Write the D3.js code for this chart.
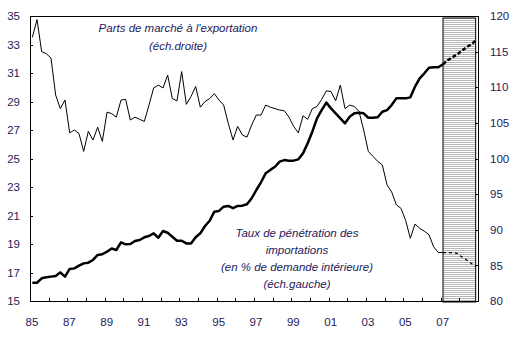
<!DOCTYPE html>
<html><head><meta charset="utf-8">
<script src="https://cdn.jsdelivr.net/npm/d3@7"></script>
<style>
html,body{margin:0;padding:0;background:#fff;}
svg{display:block;font-family:"Liberation Sans",Arial,sans-serif;}
</style></head>
<body><svg id="chart" width="516" height="338"></svg>
<script>
// ---- data (quarterly, 1985Q1 = index 0) ----
const startYear = 1985;
const endYear = 2009;
const xTickLabels = ["85","87","89","91","93","95","97","99","01","03","05","07"];
const leftTicks = [15,17,19,21,23,25,27,29,31,33,35];
const rightTicks = [80,85,90,95,100,105,110,115,120];
// Taux de pénétration des importations (left scale), 1985Q1..2007Q1
const penetration = [16.28,16.28,16.59,16.66,16.71,16.75,17.01,16.71,17.25,17.29,17.48,17.64,17.69,17.88,18.23,18.28,
  18.46,18.68,18.58,19.12,18.98,19.00,19.21,19.28,19.47,19.56,19.75,19.44,19.91,19.79,19.51,19.23,
  19.23,19.04,19.04,19.47,19.75,20.26,20.63,21.27,21.32,21.62,21.67,21.51,21.67,21.69,21.79,22.21,
  22.79,23.33,23.96,24.20,24.42,24.78,24.89,24.85,24.85,24.94,25.36,26.07,26.88,27.82,28.40,28.92,
  28.52,28.17,27.82,27.47,27.93,28.17,28.21,28.17,27.86,27.86,27.89,28.28,28.40,28.75,29.22,29.22,
  29.22,29.29,30.04,30.63,30.98,31.37,31.40,31.40,31.61];
// forecast 2007Q1..2008Q4
const penetrationForecast = [31.61,31.90,32.10,32.30,32.55,32.80,33.00,33.27];
// Parts de marché à l'exportation (right scale), 1985Q1..2007Q1
const exportShare = [117.0,119.5,115.0,114.7,114.1,108.9,107.0,108.2,103.6,104.0,103.5,101.0,103.8,102.6,104.4,102.4,
  106.5,106.3,105.8,108.2,108.3,105.4,105.8,105.5,105.2,107.5,109.9,110.3,109.9,111.7,108.4,108.1,
  112.2,107.6,108.7,110.1,107.2,108.0,108.4,109.1,108.2,107.5,104.9,102.6,104.5,103.3,103.0,104.7,
  106.1,106.1,107.5,107.2,107.0,106.8,106.7,105.8,104.5,103.6,106.0,105.5,107.0,107.3,108.3,109.5,
  109.4,108.1,110.3,107.0,107.5,107.3,106.6,104.0,101.0,100.3,99.6,99.1,96.3,95.3,93.5,93.0,
  91.3,88.8,90.8,90.2,89.8,89.3,87.6,86.8,86.8];
const exportShareForecast = [86.8,86.8,86.8,86.7,86.2,85.8,85.3,84.8];
const forecastStart = penetration.length - 1; // index of 2007Q1
const exportLabel = ["Parts de marché à l'exportation","(éch.droite)"];
const penetrationLabel = ["Taux de pénétration des","importations","(en % de demande intérieure)","(éch.gauche)"];

// ---- layout ----
const svg = d3.select("#chart");
const M = {left:30, top:16, right:478, bottom:301};
const nQ = (endYear - startYear) * 4;
const x = d3.scaleLinear().domain([0, nQ]).range([M.left, M.right]);
const yL = d3.scaleLinear().domain([15, 35]).range([M.bottom, M.top]);
const yR = d3.scaleLinear().domain([80, 120]).range([M.bottom, M.top]);
const textColor = "#1e1a5a";

// pattern for forecast box
const defs = svg.append("defs");
const pat = defs.append("pattern").attr("id","hatch").attr("patternUnits","userSpaceOnUse")
  .attr("width",4).attr("height",2);
pat.append("rect").attr("width",4).attr("height",2).attr("fill","#fff");
pat.append("rect").attr("width",4).attr("height",1).attr("fill","#b6b6b6");

// forecast box
const fx0 = x(forecastStart + 0.5), fx1 = x(nQ - 0.5);
svg.append("rect").attr("x", fx0).attr("y", M.top + 2).attr("width", fx1 - fx0)
  .attr("height", M.bottom - M.top - 1).attr("fill","url(#hatch)")
  .attr("stroke","#000").attr("stroke-width",1);

// frame
svg.append("path").attr("d",`M${M.left},${M.top}H${M.right}V${M.bottom}H${M.left}Z`)
  .attr("fill","none").attr("stroke","#000").attr("stroke-width",1).attr("shape-rendering","crispEdges");

// axes
const gL = svg.append("g").attr("transform",`translate(${M.left},0)`)
  .call(d3.axisLeft(yL).tickValues(leftTicks).tickSize(-3).tickPadding(10).tickFormat(d3.format("d")));
const gR = svg.append("g").attr("transform",`translate(${M.right},0)`)
  .call(d3.axisRight(yR).tickValues(rightTicks).tickSize(-3).tickPadding(12).tickFormat(d3.format("d")));
const yearTicks = d3.range(0, nQ + 1, 4);
const gB = svg.append("g").attr("transform",`translate(0,${M.bottom})`)
  .call(d3.axisBottom(x).tickValues(yearTicks).tickSize(-3).tickFormat(""));
[gL,gR,gB].forEach(g=>{
  g.select(".domain").remove();
  g.selectAll(".tick line").attr("stroke","#000").attr("shape-rendering","crispEdges");
  g.selectAll("text").attr("font-size",11.5).attr("fill",textColor).attr("font-family","'Liberation Sans',Arial,sans-serif");
});
svg.append("g").selectAll("text").data(xTickLabels).join("text")
  .attr("x",(d,i)=>x(i*8)+2).attr("y",M.bottom+25).attr("text-anchor","middle")
  .attr("font-size",11.5).attr("fill",textColor).text(d=>d);

// lines
const lineL = d3.line().x(d=>x(d.i+0.5)).y(d=>yL(d.v));
const lineR = d3.line().x(d=>x(d.i+0.5)).y(d=>yR(d.v));
const toPts = (arr, off) => arr.map((v,i)=>({i:i+off, v}));
svg.append("path").attr("d", lineR(toPts(exportShare,0))).attr("fill","none").attr("stroke","#000").attr("stroke-width",1);
svg.append("path").attr("d", lineR(toPts(exportShareForecast,forecastStart))).attr("fill","none").attr("stroke","#000")
  .attr("stroke-width",1.3).attr("stroke-dasharray","3,3");
svg.append("path").attr("d", lineL(toPts(penetration,0))).attr("fill","none").attr("stroke","#000")
  .attr("stroke-width",2.5).attr("stroke-linejoin","round");
svg.append("path").attr("d", lineL(toPts(penetrationForecast,forecastStart))).attr("fill","none").attr("stroke","#000")
  .attr("stroke-width",2.5).attr("stroke-dasharray","4,2");

// annotations
const ann = (lines, cx, y0, dy) => svg.append("g").selectAll("text").data(lines).join("text")
  .attr("x",cx).attr("y",(d,i)=>y0 + i*dy).attr("text-anchor","middle")
  .attr("font-size",11.5).attr("font-style","italic").attr("fill",textColor).text(d=>d);
ann(exportLabel, 178, 32, 18);
ann(penetrationLabel, 297, 236.5, 17.2);
</script></body></html>
